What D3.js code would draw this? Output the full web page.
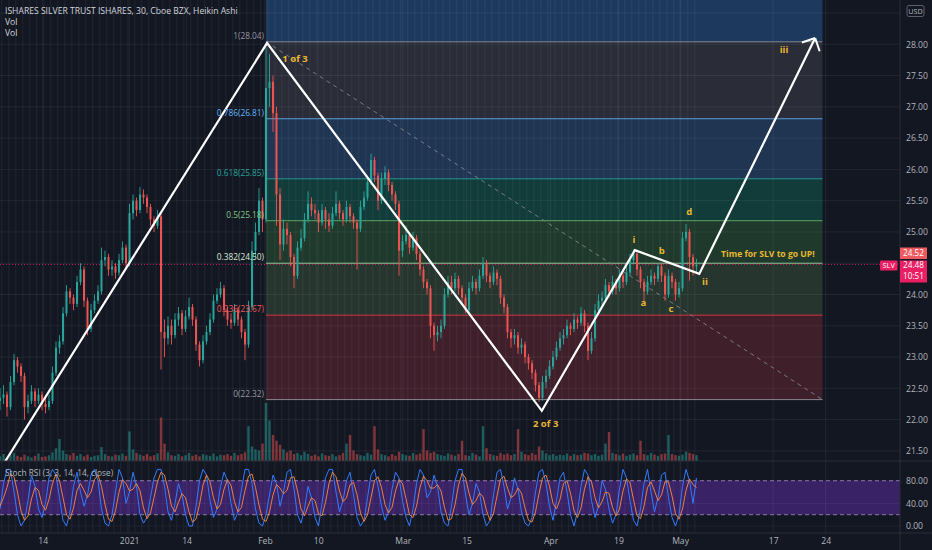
<!DOCTYPE html>
<html><head><meta charset="utf-8">
<script src="https://cdn.jsdelivr.net/npm/d3@7"></script>
<style>html,body{margin:0;padding:0;background:#131722;overflow:hidden}svg{display:block;font-family:"Open Sans","Noto Sans",sans-serif}</style>
</head><body><svg id="c" width="932" height="550"></svg>
<script>
// ---------- DATA ----------
const firstOpen = 22.3;
const closes = [
22.35,22.4,22.2,22.6,22.95,22.85,22.7,22.2,22.3,22.45,
22.3,22.4,22.25,22.2,22.3,22.75,23.15,23.25,23.7,24.05,
23.95,23.85,24.2,24.4,23.9,23.45,23.75,23.9,24.05,24.55,
24.6,24.4,24.45,24.35,24.55,24.75,24.5,25.3,25.5,25.35,
25.6,25.55,25.4,25.2,25.1,25.25,23.4,23.3,23.5,23.35,
23.6,23.7,23.45,23.65,23.8,23.6,23.2,22.95,23.25,23.4,
23.6,23.9,24.0,24.1,23.75,23.6,23.55,23.75,23.6,23.4,
23.2,23.8,24.7,25.0,25.5,25.2,27.3,27.4,26.9,25.6,
24.8,25.05,24.95,24.6,24.3,24.75,24.9,25.2,25.45,25.35,
25.3,25.15,25.35,25.2,25.1,25.3,25.45,25.3,25.2,25.4,
25.25,25.15,25.05,25.4,25.55,25.8,26.15,25.9,25.5,25.85,
25.95,25.75,25.6,25.45,24.7,24.85,24.95,24.75,24.9,24.65,
24.4,24.2,24.1,23.5,23.35,23.4,23.5,24.0,24.2,24.1,
24.25,24.1,23.95,23.75,24.1,24.2,24.1,24.3,24.5,24.3,
24.2,24.35,24.25,23.95,23.8,23.4,23.3,23.35,23.15,23.2,
23.0,22.9,22.75,22.55,22.35,22.6,22.7,22.85,23.0,23.15,
23.3,23.35,23.5,23.45,23.6,23.55,23.7,23.5,23.1,23.3,
23.75,23.9,23.95,24.15,24.05,24.2,24.1,24.3,24.2,24.35,
24.55,24.65,24.4,24.2,24.05,24.2,24.3,24.25,24.45,24.3,
24.0,24.3,24.2,24.0,24.1,24.9,25.0,24.6,24.45,24.48];
const highs = [
22.5,22.55,22.45,22.7,23.05,23.0,22.9,22.75,22.4,22.55,
22.5,22.5,22.45,22.35,22.4,22.85,23.25,23.35,23.8,24.15,
24.1,24.0,24.3,24.5,24.45,23.95,23.85,24.0,24.15,24.75,
24.7,24.65,24.55,24.5,24.65,24.85,24.8,25.45,25.6,25.55,
25.72,25.68,25.6,25.45,25.25,25.35,25.3,23.6,23.65,23.6,
23.7,23.8,23.75,23.75,23.95,23.85,23.65,23.25,23.35,23.5,
23.7,24.0,24.1,24.2,24.15,23.8,23.7,23.85,23.8,23.65,
23.45,23.9,24.85,25.15,25.7,25.55,27.95,27.85,27.5,27.0,
25.7,25.2,25.15,25.0,24.65,24.85,25.05,25.3,25.65,25.55,
25.45,25.35,25.45,25.4,25.3,25.4,25.65,25.5,25.35,25.5,
25.45,25.3,25.2,25.5,25.65,25.9,26.25,26.2,25.95,25.95,
26.05,26.0,25.8,25.65,25.5,24.95,25.1,25.0,25.0,24.95,
24.7,24.45,24.25,24.15,23.55,23.5,23.6,24.1,24.3,24.3,
24.35,24.3,24.15,24.0,24.2,24.3,24.25,24.4,24.6,24.55,
24.35,24.45,24.4,24.3,24.0,23.85,23.45,23.45,23.4,23.3,
23.25,23.05,22.95,22.8,22.6,22.7,22.8,22.95,23.1,23.25,
23.4,23.45,23.6,23.55,23.7,23.65,23.8,23.75,23.55,23.4,
23.85,24.0,24.05,24.25,24.2,24.3,24.25,24.4,24.35,24.45,
24.65,24.72,24.7,24.45,24.25,24.3,24.4,24.35,24.5,24.5,
24.35,24.4,24.35,24.25,24.2,25.0,25.13,25.05,24.65,24.57];
const lows = [
22.15,22.25,22.05,22.15,22.55,22.75,22.6,22.0,22.1,22.25,
22.2,22.25,22.15,22.1,22.15,22.25,22.7,23.05,23.2,23.65,
23.85,23.75,23.8,24.15,23.8,23.35,23.4,23.7,23.85,24.0,
24.45,24.3,24.3,24.25,24.3,24.5,24.4,24.45,25.2,25.25,
25.3,25.45,25.3,25.1,25.0,25.05,22.8,23.0,23.2,23.2,
23.3,23.5,23.35,23.4,23.6,23.5,23.1,22.85,22.9,23.2,
23.35,23.55,23.85,23.95,23.65,23.5,23.45,23.5,23.5,23.3,
22.95,23.15,23.75,24.6,24.95,25.0,25.15,27.0,26.6,25.1,
24.55,24.7,24.8,24.45,24.1,24.25,24.7,24.85,25.15,25.25,
25.2,25.0,25.1,25.05,25.0,25.05,25.25,25.2,25.1,25.15,
25.15,25.05,24.4,25.0,25.35,25.5,25.75,25.8,25.35,25.45,
25.75,25.65,25.5,25.35,24.3,24.6,24.8,24.65,24.7,24.55,
24.3,24.1,24.0,23.3,23.1,23.25,23.3,23.45,23.95,24.0,
24.05,24.0,23.85,23.7,23.7,24.05,24.0,24.05,24.25,24.2,
24.1,24.15,24.15,23.85,23.7,23.3,23.15,23.2,23.05,23.05,
22.9,22.8,22.65,22.45,22.28,22.3,22.5,22.65,22.8,22.95,
23.1,23.2,23.3,23.35,23.4,23.45,23.5,23.4,22.95,23.05,
23.25,23.7,23.8,23.9,23.95,24.0,24.0,24.05,24.1,24.15,
24.3,24.5,24.3,24.1,23.85,24.0,24.15,24.15,24.2,24.2,
23.9,23.95,24.1,23.9,23.95,24.05,24.85,24.22,24.3,24.35];
const volumes = [
8,12,6,10,14,9,7,11,8,6, 9,13,7,8,10,15,22,38,18,12,
10,14,9,12,8,11,7,9,10,24, 12,9,8,11,10,13,9,51,20,14,
11,9,12,8,10,13,75,30,15,10, 9,12,8,10,14,9,11,8,12,10,
9,13,8,11,10,12,9,14,10,12, 15,60,25,20,18,30,100,70,45,35,
28,20,15,18,12,14,10,16,12,9, 11,8,13,10,9,12,8,10,14,30,
45,18,12,10,9,14,11,60,20,12, 10,8,12,9,16,12,10,9,14,11,
13,55,18,14,16,12,10,9,13,11, 9,12,35,10,9,14,11,8,60,22,
12,10,9,14,11,13,10,12,55,16, 12,10,14,11,25,18,13,10,12,9,
11,10,13,9,12,10,11,14,13,10, 12,9,11,30,50,14,12,10,13,9,
11,13,10,35,12,10,14,11,9,12, 13,45,12,10,9,11,16,14,12,10];
const stochK = [
30,75,100,100,60,20,0,10,45,90,70,30,15,40,85,100,90,50,10,0,
25,70,95,60,35,55,90,100,80,30,5,0,20,60,100,85,40,60,95,70,
20,5,15,50,85,100,100,70,25,10,40,75,55,20,0,0,35,80,100,90,
45,15,30,70,95,80,40,10,25,65,100,100,75,30,5,0,20,55,90,75,
35,60,95,100,65,20,5,30,70,50,15,0,40,85,100,100,60,25,45,80,
95,55,15,0,10,50,90,100,70,35,10,25,65,95,85,45,15,0,30,75,
100,90,50,60,90,70,25,5,0,35,80,100,100,55,20,40,75,60,20,0,
10,55,95,100,70,30,50,85,65,25,5,0,15,60,95,100,75,35,10,45,
85,95,60,20,0,25,70,100,90,45,15,35,80,65,30,5,20,65,100,85,
45,10,0,30,75,100,60,25,50,90,95,50,15,0,20,70,100,80,40,85];
const stochD = [
35,50,68,92,87,60,27,10,18,48,68,63,38,28,47,75,92,80,50,20,
12,32,63,75,63,50,60,82,90,70,38,12,8,27,60,82,75,62,65,75,
62,32,13,23,50,78,95,90,65,35,25,42,57,50,25,7,12,38,72,90,
78,50,30,38,65,82,72,43,25,33,63,88,92,68,37,12,8,25,55,73,
67,57,63,85,87,62,30,18,35,50,45,22,18,42,75,95,87,62,43,50,
73,77,55,23,8,20,50,80,87,68,38,23,33,62,82,75,48,20,15,35,
68,88,80,67,67,73,62,33,10,13,38,72,93,85,58,38,45,58,52,27,
10,22,53,83,88,67,50,55,67,58,32,10,7,25,57,85,90,70,40,30,
47,75,80,58,27,15,32,65,87,78,50,32,43,60,58,33,18,30,62,83,
77,47,18,13,35,68,78,62,45,55,78,78,53,22,12,30,63,83,73,68];
const priceTicks = [21.5,22,22.5,23,23.5,24,24.5,25,25.5,26,26.5,27,27.5,28,28.5];
const stochTicks = [0,40,80];
const stochBand = [20,80];
const timeTickBars = [12.2,36.9,53.3,75.7,90.9,115.1,133.3,157.3,176.7,194.3,220.9,235.9];
const timeTickLabels = ["14","2021","14","Feb","10","Mar","15","Apr","19","May","17","24"];
const fibLevels = [0,0.236,0.382,0.5,0.618,0.786,1,1.618];
const fibPrices = [22.32,23.67,24.50,25.18,25.85,26.81,28.04,31.57];
const fibStartBar = 76, fibEndBar = 235;
const wavePoints = [[0,21.2],[76.3,28.02],[154.8,22.14],[181.4,24.71],[199.8,24.33],[232.9,28.1]];
const waveLabels = [
 {t:"1 of 3",b:84.3,p:27.77},{t:"2 of 3",b:155.9,p:21.94},{t:"i",b:181.1,p:24.88},
 {t:"b",b:189.1,p:24.70},{t:"d",b:196.9,p:25.33},{t:"a",b:183.8,p:23.87},
 {t:"c",b:191.7,p:23.78},{t:"ii",b:201.4,p:24.21},{t:"iii",b:224,p:27.91},
 {t:"Time for SLV to go UP!",b:219.4,p:24.65,small:true}];
const lastPrice = 24.48, otherPrice = 24.52, countdown = "10:51", symbol = "SLV";
const title = "ISHARES SILVER TRUST ISHARES, 30, Cboe BZX, Heikin Ashi";

// ---------- STYLE / LAYOUT ----------
const plotR = 900, mainB = 461, stochB = 533;
const UP = "#26a69a", DN = "#ef5350";
const zoneColors = ["#3f1f2a","#27352f","#1f3a2c","#123c39","#1f3552","#2a2d37","#1d3a5e"];
const lineColors = ["#9598a1","#f23645","#a5d6a7","#66bb6a","#26a69a","#64b5f6","#9598a1","#2962ff"];
const labelColors = ["#9598a1","#f05a5a","#d6e9d6","#81c784","#26a69a","#64b5f6","#9598a1","#2962ff"];
const gold = "#e8b730";

const svg = d3.select("#c");
const x = d3.scaleLinear().domain([0,257]).range([0,899.5]);
const y = d3.scaleLinear().domain([21.5,28]).range([450.9,44.3]);
const ys = d3.scaleLinear().domain([0,100]).range([526,469.4]);
const yv = d3.scaleLinear().domain([0,100]).range([0,58]);

svg.append("rect").attr("width",932).attr("height",550).attr("fill","#131722");
const defs = svg.append("defs");
defs.append("clipPath").attr("id","cm").append("rect").attr("x",0).attr("y",0).attr("width",plotR).attr("height",mainB);
defs.append("clipPath").attr("id","cs").append("rect").attr("x",0).attr("y",mainB).attr("width",plotR).attr("height",stochB-mainB);

const main = svg.append("g").attr("clip-path","url(#cm)");
const stoch = svg.append("g").attr("clip-path","url(#cs)");

// fib zones
const zones = d3.range(fibLevels.length-1).map(j=>({lo:fibPrices[j],hi:fibPrices[j+1],c:zoneColors[j]}));
main.selectAll(".z").data(zones).join("rect")
  .attr("x",x(fibStartBar)).attr("width",x(fibEndBar)-x(fibStartBar))
  .attr("y",d=>y(d.hi)).attr("height",d=>y(d.lo)-y(d.hi)).attr("fill",d=>d.c);

// stoch band
stoch.append("rect").attr("x",0).attr("width",plotR)
  .attr("y",ys(stochBand[1])).attr("height",ys(stochBand[0])-ys(stochBand[1])).attr("fill","#3a2266");

// grid
main.selectAll(".gh").data(priceTicks).join("line")
  .attr("x1",0).attr("x2",plotR).attr("y1",d=>y(d)).attr("y2",d=>y(d))
  .attr("stroke","rgba(210,220,240,0.07)");
svg.append("g").selectAll("line").data(timeTickBars).join("line")
  .attr("x1",d=>x(d)).attr("x2",d=>x(d)).attr("y1",0).attr("y2",stochB)
  .attr("stroke","rgba(210,220,240,0.07)");
stoch.selectAll(".gs").data(stochTicks).join("line")
  .attr("x1",0).attr("x2",plotR).attr("y1",d=>ys(d)).attr("y2",d=>ys(d))
  .attr("stroke","rgba(210,220,240,0.06)");

// session stripes (one per trading day)
const stripeBars = d3.range(0, closes.length, 2);
svg.append("g").selectAll("line").data(stripeBars).join("line")
  .attr("x1",d=>x(d)+1.75).attr("x2",d=>x(d)+1.75).attr("y1",0).attr("y2",stochB)
  .attr("stroke","rgba(200,210,235,0.06)").attr("stroke-width",1.3);

// stoch band lines
stoch.selectAll(".bl").data(stochBand).join("line")
  .attr("x1",0).attr("x2",plotR).attr("y1",d=>ys(d)).attr("y2",d=>ys(d))
  .attr("stroke","#8b74a8").attr("stroke-dasharray","4,3");

// fib lines
main.selectAll(".fl").data(fibLevels.slice(0,7)).join("line")
  .attr("x1",x(fibStartBar)).attr("x2",x(fibEndBar))
  .attr("y1",(d,i)=>y(fibPrices[i])).attr("y2",(d,i)=>y(fibPrices[i]))
  .attr("stroke",(d,i)=>lineColors[i]).attr("stroke-opacity",0.85);
// fib trend line
main.append("line")
  .attr("x1",x(fibStartBar)).attr("y1",y(fibPrices[6]))
  .attr("x2",x(fibEndBar)).attr("y2",y(fibPrices[0]))
  .attr("stroke","#787b86").attr("stroke-dasharray","4,4");

// last price dotted line
main.append("line").attr("x1",0).attr("x2",plotR).attr("y1",y(lastPrice)).attr("y2",y(lastPrice))
  .attr("stroke","#e91e63").attr("stroke-opacity",0.8).attr("stroke-dasharray","1,2");

// candles
const candles = closes.map((c,i)=>({i,o:i?closes[i-1]:firstOpen,c,h:highs[i],l:lows[i],v:volumes[i]}));
const col = d=> d.c>=d.o?UP:DN;
main.selectAll(".v").data(candles).join("rect")
  .attr("x",d=>x(d.i)-1.2).attr("width",2.4)
  .attr("y",d=>mainB-yv(d.v)).attr("height",d=>yv(d.v))
  .attr("fill",col).attr("fill-opacity",0.5);
main.selectAll(".w").data(candles).join("line")
  .attr("x1",d=>x(d.i)).attr("x2",d=>x(d.i)).attr("y1",d=>y(d.h)).attr("y2",d=>y(d.l))
  .attr("stroke",col).attr("stroke-width",0.9);
main.selectAll(".b").data(candles).join("rect")
  .attr("x",d=>x(d.i)-1).attr("width",2)
  .attr("y",d=>y(Math.max(d.o,d.c))).attr("height",d=>Math.max(0.8,Math.abs(y(d.o)-y(d.c))))
  .attr("fill",col);

// wave
main.append("path").datum(wavePoints)
  .attr("d",d3.line().x(d=>x(d[0])).y(d=>y(d[1])))
  .attr("fill","none").attr("stroke","#ffffff").attr("stroke-width",2.2).attr("stroke-linejoin","miter");
{
  const n = wavePoints.length;
  const tx = x(wavePoints[n-1][0]), ty = y(wavePoints[n-1][1]);
  const px = x(wavePoints[n-2][0]), py = y(wavePoints[n-2][1]);
  const back = Math.atan2(py-ty, px-tx);
  const arms = [back-Math.PI/4, back+Math.PI/4].map(a=>[[tx+14*Math.cos(a),ty+14*Math.sin(a)],[tx,ty]]);
  main.selectAll(".ah").data(arms).join("path").attr("d",d3.line())
    .attr("fill","none").attr("stroke","#ffffff").attr("stroke-width",2);
}

// fib labels
svg.append("g").selectAll("text").data(fibLevels.slice(0,7)).join("text")
  .attr("x",x(fibStartBar)-2).attr("y",(d,i)=>y(fibPrices[i])-3)
  .attr("text-anchor","end").attr("font-size",8.3)
  .attr("fill",(d,i)=>labelColors[i])
  .text((d,i)=>`${d}(${fibPrices[i].toFixed(2)})`);

// wave labels
svg.append("g").selectAll("text").data(waveLabels).join("text")
  .attr("x",d=>x(d.b)).attr("y",d=>y(d.p)).attr("dy","0.35em")
  .attr("text-anchor","middle").attr("font-weight","bold")
  .attr("font-size",d=>d.small?8.6:9.5).attr("fill",gold).text(d=>d.t);

// stoch lines
const sl = d3.line().x((d,i)=>x(i)).y(d=>ys(d)).curve(d3.curveLinear);
stoch.append("path").datum(stochK).attr("d",sl).attr("fill","none").attr("stroke","#2f7bff").attr("stroke-width",1);
stoch.append("path").datum(stochD).attr("d",sl).attr("fill","none").attr("stroke","#ff8a3a").attr("stroke-width",1).attr("stroke-opacity",0.9);

// headers
const hdr = svg.append("g").attr("font-size",8.6).attr("fill","#d1d4dc");
hdr.append("text").attr("x",5).attr("y",14).text(title);
hdr.append("text").attr("x",5).attr("y",25).text("Vol");
hdr.append("text").attr("x",5).attr("y",36).text("Vol");
svg.append("text").attr("x",5).attr("y",476).attr("font-size",8.3).attr("fill","#b2b5be").text("Stoch RSI (3, 3, 14, 14, close)");

// separators
svg.append("line").attr("x1",0).attr("x2",932).attr("y1",mainB).attr("y2",mainB).attr("stroke","#2a2e39");
svg.append("line").attr("x1",0).attr("x2",932).attr("y1",stochB).attr("y2",stochB).attr("stroke","#2a2e39");
svg.append("line").attr("x1",plotR).attr("x2",plotR).attr("y1",0).attr("y2",550).attr("stroke","#2a2e39");

// axes
const tagY = y(lastPrice);
const labelTicks = priceTicks.filter(p=>y(p)>20 && Math.abs(y(p)-tagY)>14);
const ay = svg.append("g").attr("transform",`translate(${plotR},0)`)
  .call(d3.axisRight(y).tickValues(labelTicks).tickFormat(d3.format(".2f")).tickSize(0).tickPadding(6));
const as = svg.append("g").attr("transform",`translate(${plotR},0)`)
  .call(d3.axisRight(ys).tickValues(stochTicks).tickFormat(d3.format(".2f")).tickSize(0).tickPadding(6));
const ax = svg.append("g").attr("transform",`translate(0,${stochB})`)
  .call(d3.axisBottom(x).tickValues(timeTickBars).tickFormat((d,i)=>timeTickLabels[i]).tickSize(0).tickPadding(5));
[ay,as,ax].forEach(g=>{
  g.select(".domain").remove();
  g.selectAll("text").attr("fill","#b2b5be").attr("font-size",8.6).attr("font-family","'Open Sans','Noto Sans',sans-serif");
});

// USD box
svg.append("rect").attr("x",907).attr("y",5.5).attr("width",17).attr("height",11).attr("rx",2)
  .attr("fill","#131722").attr("stroke","#5d606b");
svg.append("text").attr("x",915.5).attr("y",13.8).attr("text-anchor","middle").attr("font-size",7.2).attr("fill","#b2b5be").text("USD");

// price tags
const tags = svg.append("g").attr("font-size",8.2).attr("fill","#fff");
tags.append("rect").attr("x",plotR).attr("y",tagY-17).attr("width",27).attr("height",11.5).attr("fill","#ef5a5f");
tags.append("text").attr("x",913.5).attr("y",tagY-8.3).attr("text-anchor","middle").text(otherPrice.toFixed(2));
tags.append("rect").attr("x",plotR).attr("y",tagY-4).attr("width",27).attr("height",22).attr("fill","#e91e63");
tags.append("text").attr("x",913.5).attr("y",tagY+3.5).attr("text-anchor","middle").text(lastPrice.toFixed(2));
tags.append("text").attr("x",913.5).attr("y",tagY+14.5).attr("text-anchor","middle").text(countdown);
tags.append("rect").attr("x",880).attr("y",tagY-4).attr("width",17.5).attr("height",10).attr("rx",1).attr("fill","#e91e63");
tags.append("text").attr("x",888.7).attr("y",tagY+3.6).attr("text-anchor","middle").attr("font-size",7.4).text(symbol);
</script></body></html>
